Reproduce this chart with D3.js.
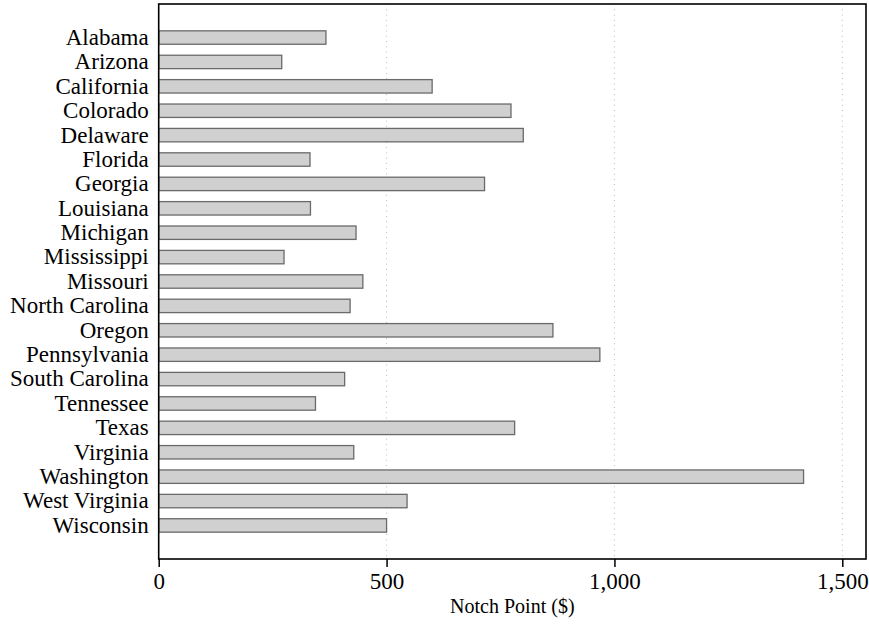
<!DOCTYPE html>
<html>
<head>
<meta charset="utf-8">
<script src="https://cdn.jsdelivr.net/npm/d3@7"></script>
<style>
	body { margin: 0; background: #ffffff; }
	text { font-family: "Liberation Serif", "DejaVu Serif", serif; fill: #000000; }
</style>
</head>
<body>
<div id="chart_notch"></div>
<script>
////////////////////////////////////////////////////////////////////////////////////////
//Data
////////////////////////////////////////////////////////////////////////////////////////
var states = ["Alabama", "Arizona", "California", "Colorado", "Delaware", "Florida", "Georgia",
	"Louisiana", "Michigan", "Mississippi", "Missouri", "North Carolina", "Oregon", "Pennsylvania",
	"South Carolina", "Tennessee", "Texas", "Virginia", "Washington", "West Virginia", "Wisconsin"];

var notchPoints = [367, 270, 600, 773, 800, 332, 715,
	333, 433, 275, 448, 420, 865, 968,
	408, 344, 781, 428, 1415, 545, 500];

var xTicks = [0, 500, 1000, 1500];
var xAxisTitle = "Notch Point ($)";

////////////////////////////////////////////////////////////////////////////////////////
//Chart
////////////////////////////////////////////////////////////////////////////////////////
function drawNotchChart() {
	var totalWidth = 869, totalHeight = 624;
	var margin = {top: 4, right: 3, bottom: 65, left: 158.7};
	var width = totalWidth - margin.left - margin.right,
		height = totalHeight - margin.top - margin.bottom;

	var svg = d3.select("#chart_notch")
		.append("svg")
		.attr("width", totalWidth)
		.attr("height", totalHeight)
		.append("g")
		.attr("transform", `translate(${margin.left},${margin.top})`);

	var x = d3.scaleLinear().domain([0, 1552]).range([0, width]);
	var y = d3.scaleBand().domain(states).range([0, height])
		.paddingInner(0.45)
		.paddingOuter(1.1);

	// 점선 그리드
	svg.append("g")
		.selectAll("line")
		.data(xTicks.filter(function (d) { return d > 0; }))
		.join("line")
		.attr("x1", function (d) { return x(d); })
		.attr("x2", function (d) { return x(d); })
		.attr("y1", 0)
		.attr("y2", height)
		.attr("stroke", "#b8b8b8")
		.attr("stroke-width", 1)
		.attr("stroke-dasharray", "1,4.3");

	// bars
	svg.append("g")
		.selectAll("rect")
		.data(states)
		.join("rect")
		.attr("x", x(0))
		.attr("y", function (d) { return y(d); })
		.attr("width", function (d, i) { return x(notchPoints[i]) - x(0); })
		.attr("height", y.bandwidth())
		.attr("fill", "#d0d0d0")
		.attr("stroke", "#6a6a6a")
		.attr("stroke-width", 1.3);

	// x axis
	var xAxis = d3.axisBottom(x)
		.tickValues(xTicks)
		.tickSize(8)
		.tickPadding(6)
		.tickFormat(d3.format(",d"));
	var gx = svg.append("g")
		.attr("transform", `translate(0, ${height})`)
		.call(xAxis);
	gx.select(".domain").remove();
	gx.selectAll(".tick line").attr("stroke", "#000").attr("stroke-width", 1.5);
	gx.selectAll(".tick text")
		.style("font-size", "23px")
		.style("font-family", "'Liberation Serif', serif")
		.attr("fill", "#000");

	// y axis (no ticks)
	var yAxis = d3.axisLeft(y).tickSize(0).tickPadding(10);
	var gy = svg.append("g").call(yAxis);
	gy.select(".domain").remove();
	gy.selectAll(".tick text")
		.style("font-size", "23px")
		.style("font-family", "'Liberation Serif', serif")
		.attr("fill", "#000");

	// frame
	svg.append("rect")
		.attr("x", 0)
		.attr("y", 0)
		.attr("width", width)
		.attr("height", height)
		.attr("fill", "none")
		.attr("stroke", "#000")
		.attr("stroke-width", 1.6);

	// axis title
	svg.append("text")
		.attr("x", width / 2)
		.attr("y", height + 54)
		.attr("text-anchor", "middle")
		.style("font-size", "20px")
		.text(xAxisTitle);
}

drawNotchChart();
</script>
</body>
</html>
